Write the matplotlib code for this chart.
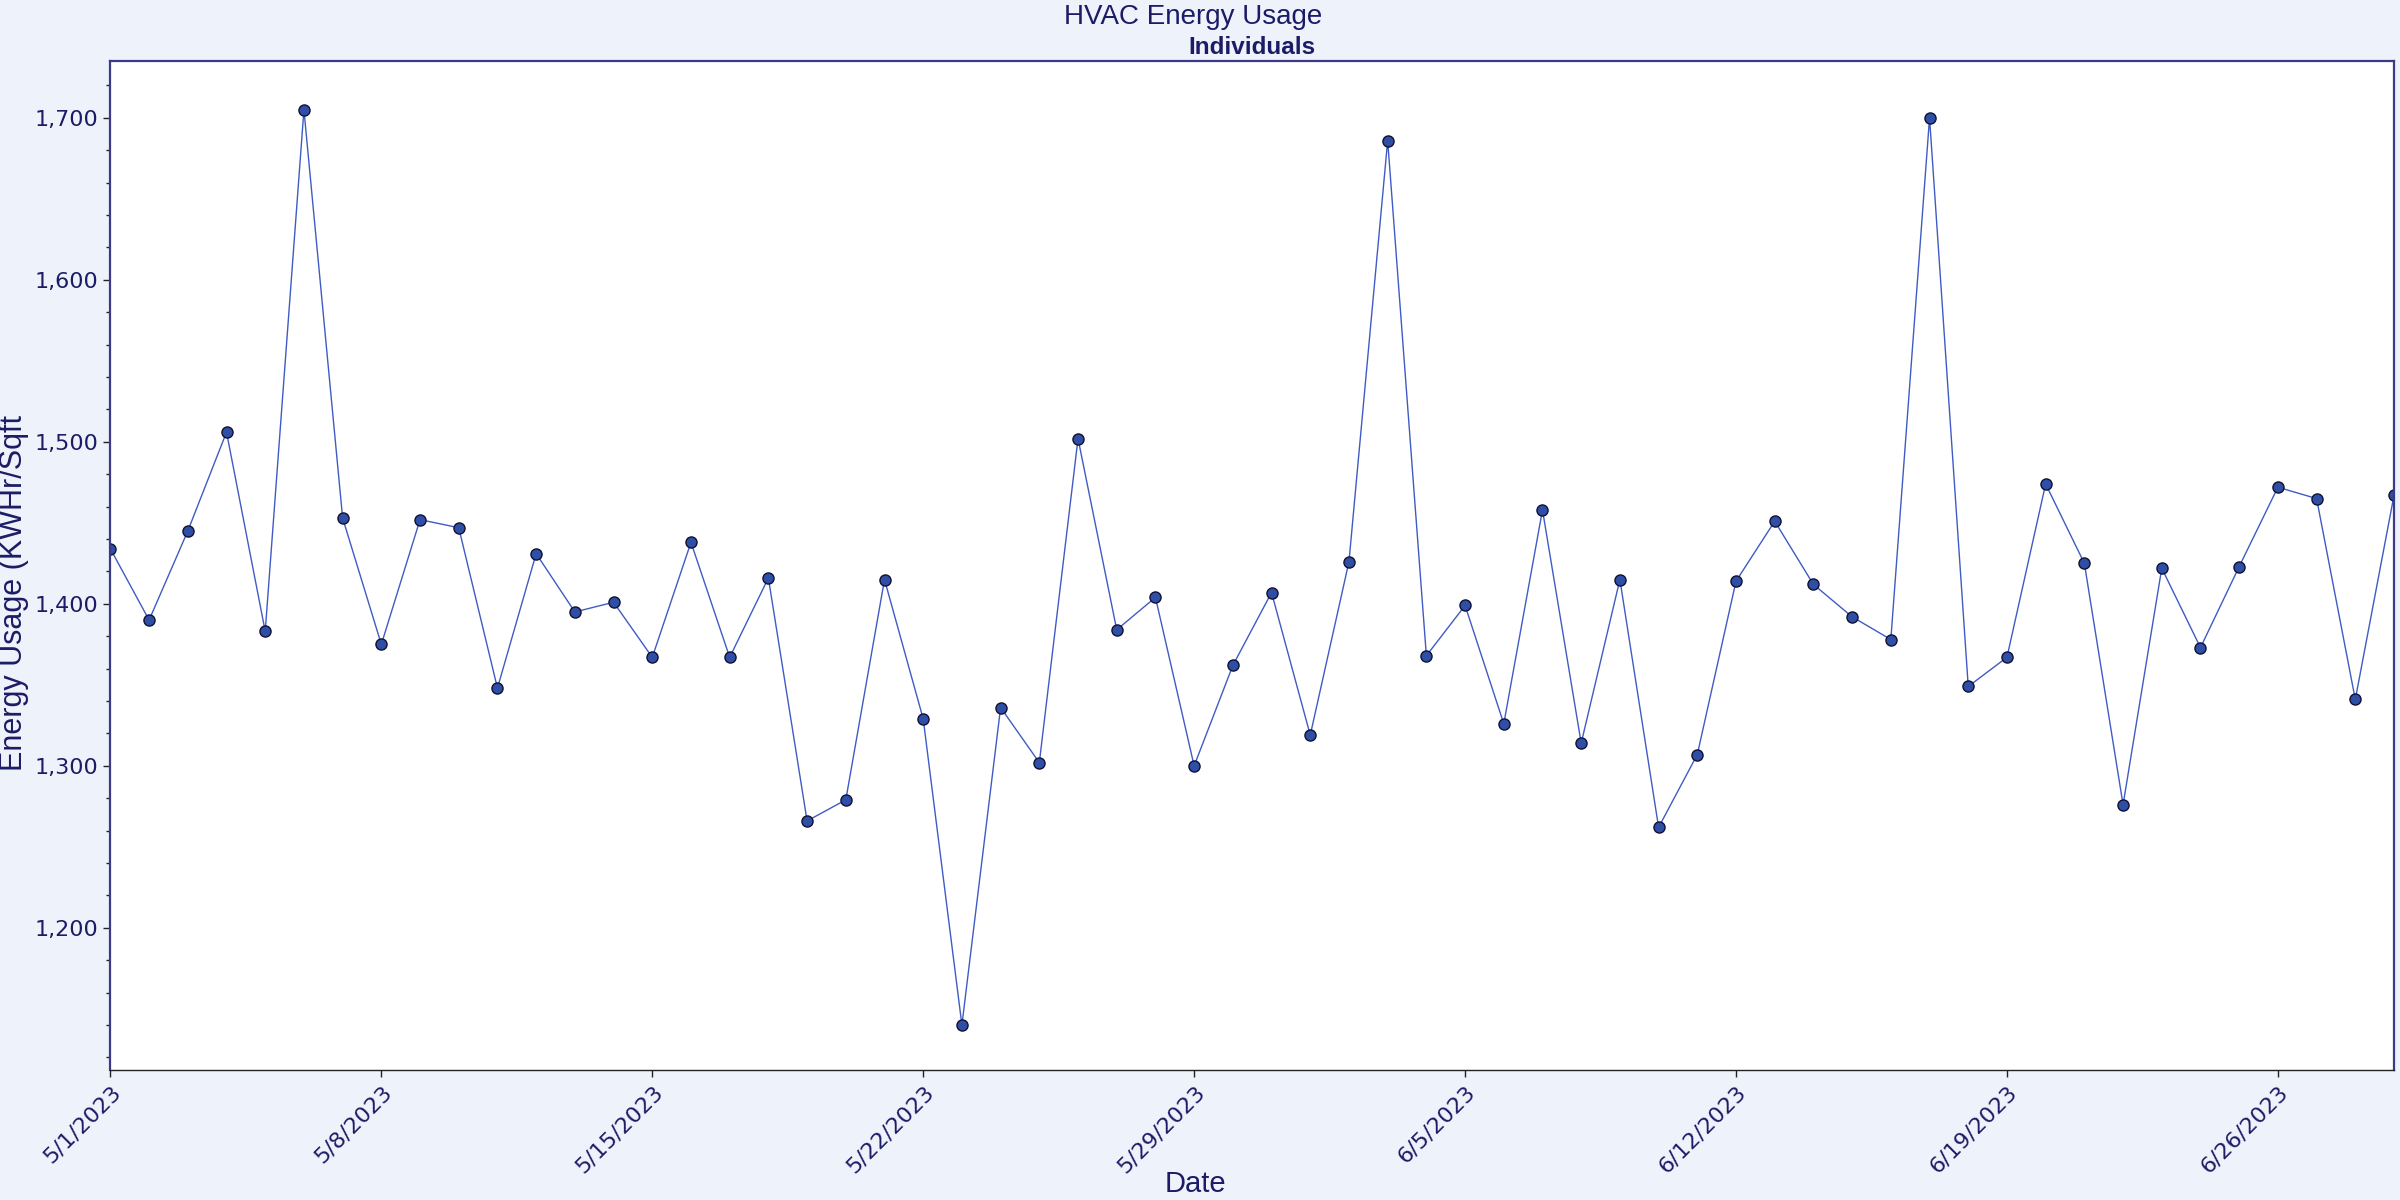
import numpy as np
import pandas as pd
import matplotlib
matplotlib.use("Agg")
import matplotlib.pyplot as plt
from matplotlib.ticker import FuncFormatter, MultipleLocator

# daily HVAC energy usage, 5/1/2023 - 6/29/2023
dates = pd.date_range("2023-05-01", "2023-06-29", freq="D")
usage = [
    1434, 1390, 1445, 1506, 1383, 1705, 1453, 1375, 1452, 1447,
    1348, 1431, 1395, 1401, 1367, 1438, 1367, 1416, 1266, 1279,
    1415, 1329, 1140, 1336, 1302, 1502, 1384, 1404, 1300, 1362,
    1407, 1319, 1426, 1686, 1368, 1399, 1326, 1458, 1314, 1415,
    1262, 1307, 1414, 1451, 1412, 1392, 1378, 1700, 1349, 1367,
    1474, 1425, 1276, 1422, 1373, 1423, 1472, 1465, 1341, 1467,
]

navy = "#1c1c66"
bg = "#eef3fb"

fig = plt.figure(figsize=(24, 12), dpi=100, facecolor=bg)
ax = fig.add_axes([0.046, 0.108, 0.9515, 0.841])
ax.set_facecolor("white")

ax.plot(dates, usage, color="#3f5bc4", lw=1.0, marker="o", ms=8,
        mfc="#2f4ea6", mec="#111133", mew=1.0)

ax.set_xlim(dates[0], dates[-1])
ax.set_ylim(1112, 1735)

ax.set_xticks(dates[::7])
ax.xaxis.set_major_formatter(FuncFormatter(
    lambda v, p: "{d.month}/{d.day}/{d.year}".format(d=pd.Timestamp(matplotlib.dates.num2date(v)))))
ax.yaxis.set_major_locator(MultipleLocator(100))
ax.yaxis.set_minor_locator(MultipleLocator(20))
ax.yaxis.set_major_formatter(FuncFormatter(lambda v, p: f"{int(v):,}"))

ax.tick_params(axis="both", which="major", length=5, width=1, color="#222222",
               labelsize=16, labelcolor=navy)
ax.tick_params(axis="y", which="minor", length=3, width=1, color="#222222")
for lab in ax.get_xticklabels():
    lab.set_rotation(45)
    lab.set_ha("right")
    lab.set_rotation_mode("anchor")

for side in ["left", "top", "right"]:
    ax.spines[side].set_color("#3a3a88")
    ax.spines[side].set_linewidth(1.6)
ax.spines["bottom"].set_color("#222222")
ax.spines["bottom"].set_linewidth(1.0)

sans = ["Liberation Sans", "DejaVu Sans"]
fig.text(0.497, 0.986, "HVAC Energy Usage", ha="center", va="center",
         fontsize=20, color=navy, family=sans)
fig.text(0.5215, 0.960, "Individuals", ha="center", va="center",
         fontsize=17.5, fontweight="bold", color=navy, family=sans)
fig.text(0.006, 0.506, "Energy Usage (KWHr/Sqft", rotation=90, ha="center", va="center",
         fontsize=22, color=navy, family=sans)
fig.text(0.498, 0.002, "Date", ha="center", va="bottom",
         fontsize=21, color=navy, family=sans)

fig.savefig("out.png", dpi=100, facecolor=bg)
